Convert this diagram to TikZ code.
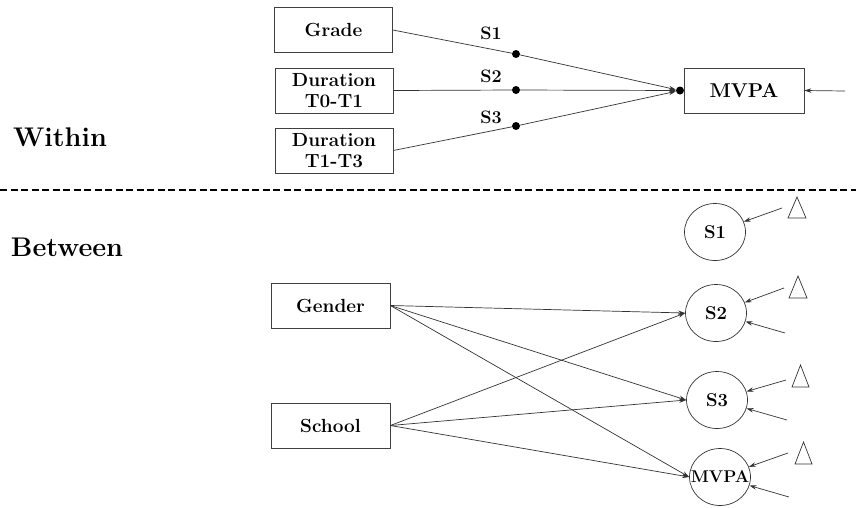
\documentclass[tikz,border=0pt]{standalone}
\usetikzlibrary{shapes.geometric,arrows.meta}
\begin{document}
\begin{tikzpicture}[x=1pt,y=-1pt,
  box/.style={draw=black!75,line width=0.7pt,rectangle,minimum width=118pt,minimum height=45pt,inner sep=0pt,align=center,font=\fontsize{19}{21}\selectfont\bfseries},
  lat/.style={draw=black!80,line width=0.7pt,ellipse,minimum width=61pt,minimum height=57pt,inner sep=0pt,font=\fontsize{18.5}{18.5}\selectfont\bfseries},
  dotn/.style={circle,fill=black,inner sep=0pt,minimum size=8pt},
  conn/.style={draw=black!80,line width=0.7pt},
  arr/.style={conn,-{Stealth[length=7pt,width=4.5pt]}},
  lab/.style={font=\fontsize{18}{18}\selectfont\bfseries},
  side/.style={font=\fontsize{27}{27}\selectfont\bfseries,anchor=center},
  tri/.style={draw=black!80,line width=0.7pt}
]
\useasboundingbox (0,0) rectangle (856,507);

% ---------- Within ----------
\node[box] (grade) at (333.5,30) {Grade};
\node[box] (d01) at (334,90.5) {Duration\\T0-T1};
\node[box] (d13) at (334,150.5) {Duration\\T1-T3};
\node[box,minimum width=120pt,font=\fontsize{20}{20}\selectfont\bfseries] (mvpab) at (744,90.5) {MVPA};
\node[dotn] (md) at (680,90.5) {};
\node[dotn] (p1) at (516,54) {};
\node[dotn] (p2) at (516,90) {};
\node[dotn] (p3) at (516,126) {};
\node[lab] (l1) at (491,33) {S1};
\node[lab] (l2) at (491,76) {S2};
\node[lab] (l3) at (491,117) {S3};
\coordinate (min) at (845,91);

\draw[conn] (grade.east) -- (p1);
\draw[conn] (d01.east) -- (p2);
\draw[conn] (d13.east) -- (p3);
\draw[arr] (p1) -- (md);
\draw[arr] (p2) -- (md);
\draw[arr] (p3) -- (md);
\draw[arr] (min) -- (mvpab.east);

\node[side] (within) at (60,137) {Within};

% ---------- separator ----------
\coordinate (dl) at (0,190);
\coordinate (dr) at (856,190);
\draw[line width=1.4pt,dash pattern=on 7pt off 3.5pt] (dl) -- (dr);

% ---------- Between ----------
\node[side] (between) at (67,247) {Between};
\node[box,minimum width=119pt] (gender) at (330.5,305.5) {Gender};
\node[box,minimum width=119pt] (school) at (330.5,425.5) {School};
\node[lat] (s1) at (715,232) {S1};
\node[lat] (s2) at (716,313) {S2};
\node[lat] (s3) at (717,400) {S3};
\node[lat,font=\fontsize{17}{17}\selectfont\bfseries] (mv) at (720,477) {\makebox[0pt]{MVPA}};

\draw[arr] (gender.east) -- (s2.west);
\draw[arr] (gender.east) -- (s3.west);
\draw[arr] (gender.east) -- (mv.west);
\draw[arr] (school.east) -- (s2.west);
\draw[arr] (school.east) -- (s3.west);
\draw[arr] (school.east) -- (mv.west);

% residual arrows
\coordinate (e1a) at (782,208);
\coordinate (e2a) at (784,288);
\coordinate (e2b) at (785,333);
\coordinate (e3a) at (786,380);
\coordinate (e3b) at (787,420);
\coordinate (e4a) at (788,453);
\coordinate (e4b) at (789,497);
\draw[arr] (e1a) -- (s1);
\draw[arr] (e2a) -- (s2);
\draw[arr] (e2b) -- (s2);
\draw[arr] (e3a) -- (s3);
\draw[arr] (e3b) -- (s3);
\draw[arr] (e4a) -- (mv);
\draw[arr] (e4b) -- (mv);

% triangles
\draw[tri] (788,218) -- (797,197) -- (806,218) -- cycle;
\draw[tri] (789,298) -- (798,276) -- (807,298) -- cycle;
\draw[tri] (792,387) -- (800.5,365) -- (809,387) -- cycle;
\draw[tri] (795,464) -- (803.5,442) -- (812,464) -- cycle;
\end{tikzpicture}
\end{document}
